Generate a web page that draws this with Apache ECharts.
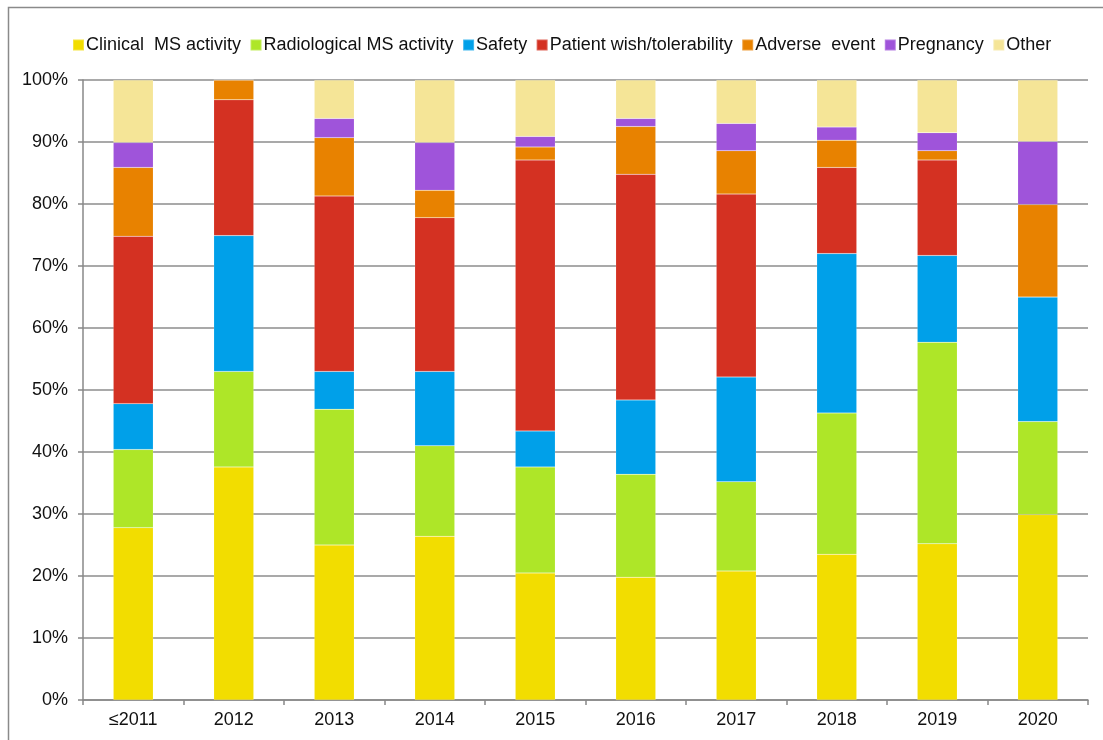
<!DOCTYPE html>
<html>
<head>
<meta charset="utf-8">
<script src="https://cdn.jsdelivr.net/npm/echarts@6/dist/echarts.min.js"></script>
<style>
  html, body { margin: 0; padding: 0; background: #fff; }
  #chart { width: 1103px; height: 740px; }
</style>
</head>
<body>
<div id="chart"></div>
<script>
// categories (years)
const years = ['≤2011', '2012', '2013', '2014', '2015', '2016', '2017', '2018', '2019', '2020'];

// reasons, percent of switches per year
const clinical     = [27.8, 37.6, 25.0, 26.4, 20.5, 19.8, 20.8, 23.5, 25.2, 29.9];
const radiological = [12.6, 15.4, 21.9, 14.6, 17.1, 16.6, 14.4, 22.8, 32.5, 15.0];
const safety       = [7.4, 21.9, 6.1, 12.0, 5.8, 12.0, 16.9, 25.7, 14.0, 20.1];
const patientWish  = [27.0, 21.9, 28.3, 24.8, 43.7, 36.4, 29.5, 13.9, 15.4, 0];
const adverse      = [11.1, 3.2, 9.4, 4.4, 2.1, 7.7, 7.0, 4.4, 1.5, 14.9];
const pregnancy    = [4.0, 0, 3.1, 7.7, 1.7, 1.3, 4.4, 2.1, 2.9, 10.2];
const other        = [10.1, 0, 6.2, 10.1, 9.1, 6.2, 7.0, 7.6, 8.5, 9.9];

const seriesDefs = [
  { name: 'Clinical  MS activity', data: clinical, color: '#F2DD00' },
  { name: 'Radiological MS activity', data: radiological, color: '#AEE628' },
  { name: 'Safety', data: safety, color: '#00A0E9' },
  { name: 'Patient wish/tolerability', data: patientWish, color: '#D43122' },
  { name: 'Adverse  event', data: adverse, color: '#E88200' },
  { name: 'Pregnancy', data: pregnancy, color: '#9F54DA' },
  { name: 'Other', data: other, color: '#F5E597' }
];

const font = 'Liberation Sans, Arial, sans-serif';
const chart = echarts.init(document.getElementById('chart'));

const option = {
  animation: false,
  textStyle: { fontFamily: font },
  graphic: [{
    type: 'rect',
    shape: { x: 8.5, y: 7.5, width: 1200, height: 800 },
    style: { fill: 'none', stroke: '#8a8a8a', lineWidth: 1.5 },
    silent: true
  }],
  legend: {
    top: 31,
    left: 67,
    itemWidth: 11,
    itemHeight: 11,
    itemGap: 8.5,
    icon: 'rect',
    textStyle: { fontSize: 18, color: '#111', fontFamily: font, padding: [0, 0, 0, -3] },
    data: seriesDefs.map(s => s.name)
  },
  grid: { left: 83, right: 15, top: 80, bottom: 40 },
  xAxis: {
    type: 'category',
    data: years,
    axisLine: { lineStyle: { color: '#888', width: 1.5 } },
    axisTick: { show: true, length: 5, lineStyle: { color: '#888', width: 1.5 } },
    axisLabel: { fontSize: 18, color: '#111', margin: 11, fontFamily: font }
  },
  yAxis: {
    type: 'value',
    min: 0,
    max: 100,
    interval: 10,
    axisLine: { show: true, lineStyle: { color: '#888', width: 1.5 } },
    axisTick: { show: true, length: 5, lineStyle: { color: '#888', width: 1.5 } },
    axisLabel: { fontSize: 18, color: '#111', margin: 15, formatter: '{value}%', fontFamily: font },
    splitLine: { lineStyle: { color: '#8c8c8c', width: 1.5 } }
  },
  series: seriesDefs.map(s => ({
    name: s.name,
    type: 'bar',
    stack: 'total',
    barWidth: 40,
    data: s.data,
    itemStyle: { color: s.color, borderColor: 'rgba(255,255,255,0.25)', borderWidth: 0.5 }
  }))
};

chart.setOption(option);
</script>
</body>
</html>
